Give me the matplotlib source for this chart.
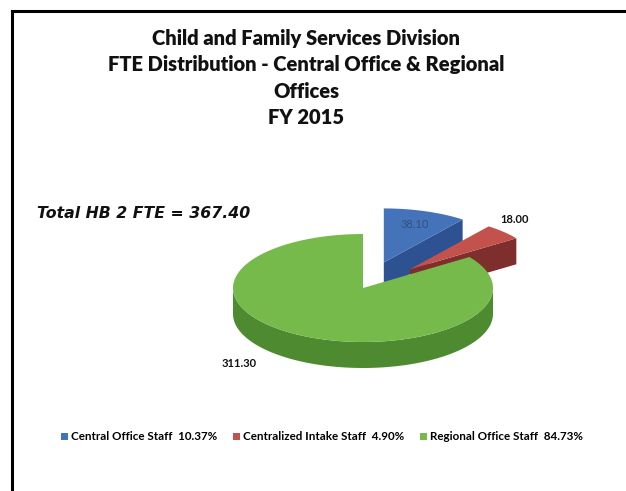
import numpy as np
import matplotlib
matplotlib.use("Agg")
import matplotlib.pyplot as plt
from matplotlib.patches import Polygon, Patch
from matplotlib.lines import Line2D

# ---- data ----
categories = ["Central Office Staff", "Centralized Intake Staff", "Regional Office Staff"]
fte_values = [38.10, 18.00, 311.30]
explode = [0.5, 0.5, 0.0]
title_lines = ["Child and Family Services Division",
               "FTE Distribution - Central Office & Regional",
               "Offices",
               "FY 2015"]

# ---- style ----
top_colors = ["#4473BA", "#C4524C", "#77BA4C"]
side_colors = ["#2E5291", "#7E2F2D", "#4D8A30"]
label_colors = ["#34507F", "#111111", "#111111"]
label_weights = ["normal", "bold", "bold"]
label_scale = [(0.75, 0.75), (1.12, 1.32), (2.06, 1.57)]

W, H = 626, 491
fig = plt.figure(figsize=(W / 100, H / 100), dpi=100)
fig.patch.set_facecolor("white")

# frame lines (top and left)
fig.add_artist(Line2D([12 / W, 1.0], [1 - 11 / H, 1 - 11 / H], color="black",
                      lw=2.2, transform=fig.transFigure))
fig.add_artist(Line2D([12 / W, 12 / W], [0.0, 1 - 11 / H], color="black",
                      lw=2.2, transform=fig.transFigure))

# title
fig.text(306 / W, 1 - 29 / H, "\n".join(title_lines), ha="center", va="top",
         fontsize=14.5, fontweight="heavy", family="Lato", linespacing=1.46,
         color="#111111")

total = sum(fte_values)
fig.text(37 / W, 1 - 213 / H, f"Total HB 2 FTE = {total:.2f}", ha="left",
         va="center", fontsize=11.3, fontweight="bold", style="italic",
         family="DejaVu Sans", color="#111111")

# ---- pseudo-3D pie ----
R_PX = 130.0
CX, CY = 363.0, 288.0
half_w, half_h = 220.0, 160.0
ax = fig.add_axes([(CX - half_w) / W, (H - CY - half_h) / H,
                   2 * half_w / W, 2 * half_h / H])
ax.set_xlim(-half_w / R_PX, half_w / R_PX)
ax.set_ylim(-half_h / R_PX, half_h / R_PX)
ax.axis("off")

tilt = 54.0 / 130.0     # ellipse ratio of the top face
depth = 26.0 / 130.0    # thickness of the pie


def rim(theta_deg, off):
    t = np.radians(theta_deg)
    return off[0] + np.sin(t), off[1] + tilt * np.cos(t)


fractions = np.array(fte_values) / total
bounds = np.concatenate([[0.0], np.cumsum(fractions) * 360.0])

for i, (val, e) in enumerate(zip(fte_values, explode)):
    a1, a2 = bounds[i], bounds[i + 1]
    am = 0.5 * (a1 + a2)
    off = (e * np.sin(np.radians(am)), e * tilt * np.cos(np.radians(am)))
    vx, vy = off

    # outer wall: the part that faces the viewer (90..270 degrees)
    lo, hi = max(a1, 90.0), min(a2, 270.0)
    if hi > lo:
        th = np.linspace(lo, hi, 80)
        xs, ys = rim(th, off)
        pts = np.column_stack([np.r_[xs, xs[::-1]], np.r_[ys, ys[::-1] - depth]])
        ax.add_patch(Polygon(pts, closed=True, fc=side_colors[i], ec="none", zorder=i * 3))

    # radial walls that face the viewer
    for ang, sign in ((a1, -1), (a2, 1)):
        normal = np.radians(ang + sign * 90.0)
        if np.cos(normal) < -1e-6:
            rx, ry = rim(ang, off)
            pts = [(vx, vy), (rx, ry), (rx, ry - depth), (vx, vy - depth)]
            ax.add_patch(Polygon(pts, closed=True, fc=side_colors[i], ec="none",
                                 zorder=i * 3 + 1))

    # top face
    th = np.linspace(a1, a2, 200)
    xs, ys = rim(th, off)
    pts = np.column_stack([np.r_[vx, xs], np.r_[vy, ys]])
    ax.add_patch(Polygon(pts, closed=True, fc=top_colors[i], ec="none", zorder=i * 3 + 2))

    # value label
    sx, sy = label_scale[i]
    lx = vx + sx * np.sin(np.radians(am))
    ly = vy + sy * tilt * np.cos(np.radians(am))
    ax.text(lx, ly, f"{val:.2f}", ha="center", va="center", fontsize=8,
            fontweight=label_weights[i], family="Lato", color=label_colors[i],
            zorder=20)

# legend
handles = [Patch(fc=c, ec="none") for c in top_colors]
labels = [f"{c}  {f * 100:.2f}%" for c, f in zip(categories, fractions)]
fig.legend(handles, labels, loc="center", bbox_to_anchor=(322 / W, 1 - 437 / H),
           ncol=3, frameon=False, prop={"family": "Lato", "weight": "bold", "size": 8.4},
           handlelength=0.6, handleheight=0.6, handletextpad=0.3, columnspacing=1.3)

fig.savefig("out.png", dpi=100, facecolor="white")
